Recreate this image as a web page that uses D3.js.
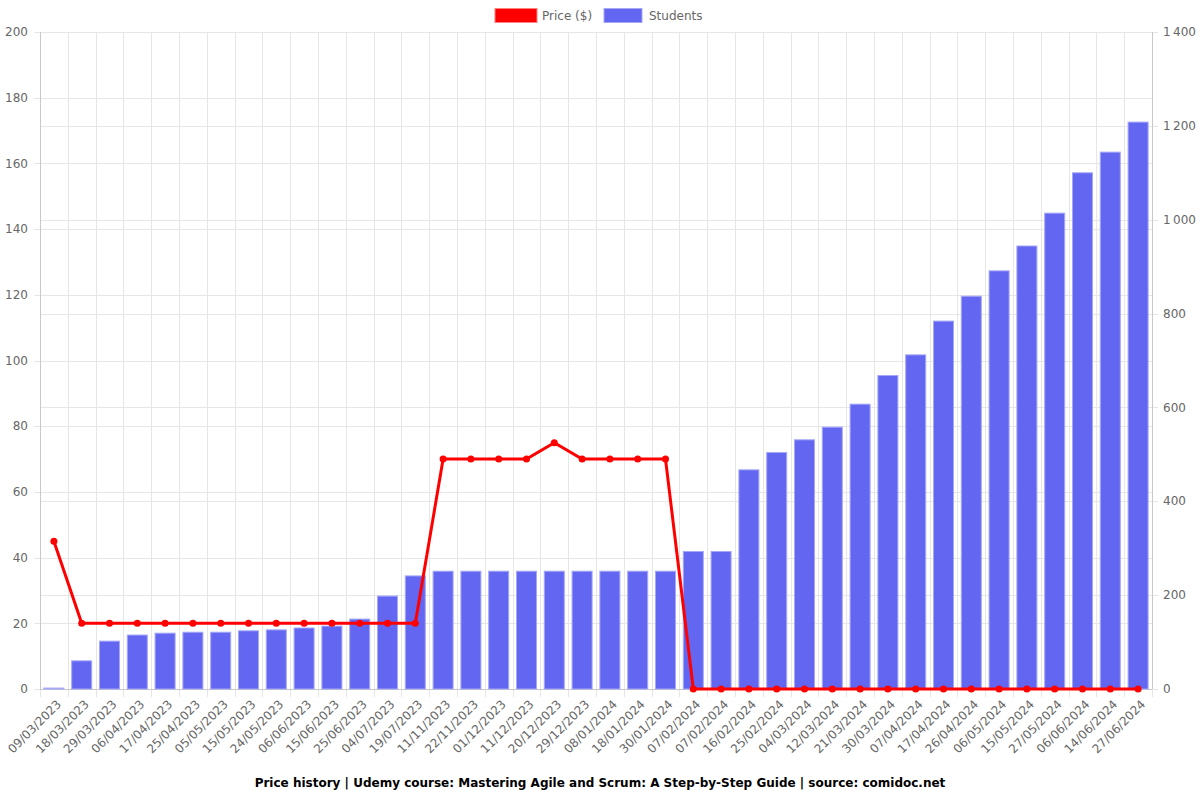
<!DOCTYPE html>
<html>
<head>
<meta charset="utf-8">
<script src="https://cdn.jsdelivr.net/npm/d3@7"></script>
<style>
  body { margin: 0; background: #fff; }
  svg { display: block; font-family: "DejaVu Sans", sans-serif; }
</style>
</head>
<body>
<div id="chart"></div>
<script>
// data
var dates = ["09/03/2023", "18/03/2023", "29/03/2023", "06/04/2023", "17/04/2023", "25/04/2023",
    "05/05/2023", "15/05/2023", "24/05/2023", "06/06/2023", "15/06/2023", "25/06/2023",
    "04/07/2023", "19/07/2023", "11/11/2023", "22/11/2023", "01/12/2023", "11/12/2023",
    "20/12/2023", "29/12/2023", "08/01/2024", "18/01/2024", "30/01/2024", "07/02/2024",
    "07/02/2024", "16/02/2024", "25/02/2024", "04/03/2024", "12/03/2024", "21/03/2024",
    "30/03/2024", "07/04/2024", "17/04/2024", "26/04/2024", "06/05/2024", "15/05/2024",
    "27/05/2024", "06/06/2024", "14/06/2024", "27/06/2024"];
var prices = [45, 20, 20, 20, 20, 20, 20, 20, 20, 20, 20, 20, 20, 20,
    70, 70, 70, 70, 75, 70, 70, 70, 70,
    0, 0, 0, 0, 0, 0, 0, 0, 0, 0, 0, 0, 0, 0, 0, 0, 0];
var students = [2, 60, 102, 115, 119, 121, 121, 124, 126, 130, 134, 149, 198, 241,
    251, 251, 251, 251, 251, 251, 251, 251, 251, 293, 293, 467, 504, 531, 558, 607,
    668, 712, 784, 837, 891, 944, 1014, 1100, 1144, 1208];
var priceTicks = [0, 20, 40, 60, 80, 100, 120, 140, 160, 180, 200];
var studentTicks = [0, 200, 400, 600, 800, 1000, 1200, 1400];

(function() {
    var w = 1200, h = 800;
    var plotLeft = 40, plotRight = 1152, plotTop = 32, plotBottom = 689;
    var gridColor = "#e6e6e6";
    var axisColor = "#c8c8c8";
    var textColor = "#666";

    var svg = d3.select("#chart").append("svg")
        .attr("width", w)
        .attr("height", h);

    var idx = d3.range(dates.length);
    var x = d3.scaleBand().domain(idx).range([plotLeft, plotRight]);
    var yPrice = d3.scaleLinear().domain([0, 200]).range([plotBottom, plotTop]);
    var yStud = d3.scaleLinear().domain([0, 1400]).range([plotBottom, plotTop]);

    // horizontal grid for both axes
    svg.append("g").selectAll("line").data(priceTicks).enter().append("line")
        .attr("x1", plotLeft - 6).attr("x2", plotRight)
        .attr("y1", function(d) { return Math.round(yPrice(d)) + 0.5; })
        .attr("y2", function(d) { return Math.round(yPrice(d)) + 0.5; })
        .attr("stroke", gridColor);
    svg.append("g").selectAll("line").data(studentTicks).enter().append("line")
        .attr("x1", plotLeft).attr("x2", plotRight + 6)
        .attr("y1", function(d) { return Math.round(yStud(d)) + 0.5; })
        .attr("y2", function(d) { return Math.round(yStud(d)) + 0.5; })
        .attr("stroke", gridColor);

    // vertical grid at category boundaries
    var bounds = idx.map(function(i) { return x(i); }).concat([plotRight]);
    svg.append("g").selectAll("line").data(bounds).enter().append("line")
        .attr("x1", function(d) { return Math.round(d) + 0.5; })
        .attr("x2", function(d) { return Math.round(d) + 0.5; })
        .attr("y1", plotTop).attr("y2", plotBottom + 8)
        .attr("stroke", gridColor);

    // axis borders
    svg.append("line").attr("x1", plotLeft + 0.5).attr("x2", plotLeft + 0.5)
        .attr("y1", plotTop).attr("y2", plotBottom).attr("stroke", axisColor);
    svg.append("line").attr("x1", plotRight + 0.5).attr("x2", plotRight + 0.5)
        .attr("y1", plotTop).attr("y2", plotBottom).attr("stroke", axisColor);
    svg.append("line").attr("x1", plotLeft).attr("x2", plotRight)
        .attr("y1", plotBottom + 0.5).attr("y2", plotBottom + 0.5).attr("stroke", axisColor);

    // bars
    var bw = x.bandwidth() * 0.72;
    svg.append("g").selectAll("rect").data(students).enter().append("rect")
        .attr("x", function(d, i) { return x(i) + (x.bandwidth() - bw) / 2; })
        .attr("y", function(d) { return yStud(d); })
        .attr("width", bw)
        .attr("height", function(d) { return plotBottom - yStud(d); })
        .attr("fill", "#6366f1")
        .attr("stroke", "#a5a8f7")
        .attr("stroke-width", 1);

    // price line
    var line = d3.line()
        .x(function(d, i) { return x(i) + x.bandwidth() / 2; })
        .y(function(d) { return yPrice(d); });
    svg.append("path").datum(prices)
        .attr("d", line)
        .attr("fill", "none")
        .attr("stroke", "#ff0000")
        .attr("stroke-width", 3);
    svg.append("g").selectAll("circle").data(prices).enter().append("circle")
        .attr("cx", function(d, i) { return x(i) + x.bandwidth() / 2; })
        .attr("cy", function(d) { return yPrice(d); })
        .attr("r", 3.5)
        .attr("fill", "#ff0000");

    // left axis labels
    svg.append("g").selectAll("text").data(priceTicks).enter().append("text")
        .attr("x", 28)
        .attr("y", function(d) { return yPrice(d); })
        .attr("dy", "0.35em")
        .attr("text-anchor", "end")
        .attr("font-size", 12)
        .attr("fill", textColor)
        .text(function(d) { return d; });

    // right axis labels, thin space as thousands separator
    var fmt = function(d) {
        return d >= 1000 ? Math.floor(d / 1000) + "\u2009" + d3.format("03d")(d % 1000) : d;
    };
    svg.append("g").selectAll("text").data(studentTicks).enter().append("text")
        .attr("x", 1163)
        .attr("y", function(d) { return yStud(d); })
        .attr("dy", "0.35em")
        .attr("text-anchor", "start")
        .attr("font-size", 12)
        .attr("fill", textColor)
        .text(fmt);

    // x labels
    svg.append("g").selectAll("text").data(dates).enter().append("text")
        .attr("transform", function(d, i) {
            return "translate(" + (x(i) + x.bandwidth() / 2 + 5) + "," + (plotBottom + 13) + ") rotate(-45)";
        })
        .attr("text-anchor", "end")
        .attr("dy", "0.35em")
        .attr("font-size", 12)
        .attr("fill", textColor)
        .text(function(d) { return d; });

    // legend
    var legend = svg.append("g");
    legend.append("rect").attr("x", 495).attr("y", 8.5).attr("width", 42).attr("height", 14)
        .attr("fill", "#ff0000").attr("stroke", "#ff8080");
    legend.append("text").attr("x", 542).attr("y", 16).attr("dy", "0.35em")
        .attr("font-size", 12).attr("fill", textColor).text("Price ($)");
    legend.append("rect").attr("x", 604).attr("y", 8.5).attr("width", 38).attr("height", 14)
        .attr("fill", "#6366f1").attr("stroke", "#a5a8f7");
    legend.append("text").attr("x", 649).attr("y", 16).attr("dy", "0.35em")
        .attr("font-size", 12).attr("fill", textColor).text("Students");

    // title
    svg.append("text")
        .attr("x", 600).attr("y", 783)
        .attr("dy", "0.35em")
        .attr("text-anchor", "middle")
        .attr("font-size", 12)
        .attr("font-weight", "bold")
        .attr("fill", "#000")
        .text("Price history | Udemy course: Mastering Agile and Scrum: A Step-by-Step Guide | source: comidoc.net");
})();
</script>
</body>
</html>
